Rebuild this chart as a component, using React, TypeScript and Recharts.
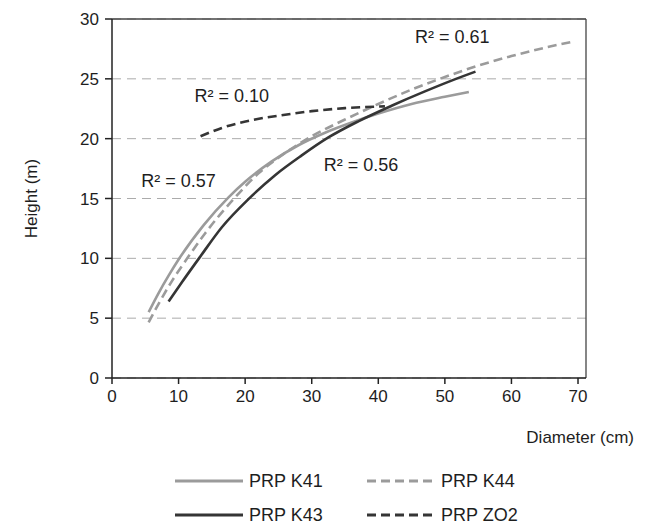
import { LineChart, Line, XAxis, YAxis, CartesianGrid, ReferenceLine, ReferenceDot, Label } from "recharts";

// values (diameter in cm, height in m)
const k41Diameter = [5.5, 7, 8.5, 10, 13.8, 17.5, 20, 24, 28, 32, 36, 40, 45, 50, 53.6];
const k41Height = [5.5, 7.1, 8.55, 9.9, 12.8, 15.1, 16.4, 18.1, 19.45, 20.5, 21.35, 22.1, 22.9, 23.5, 23.9];

const k44Diameter = [5.5, 7, 9, 11.3, 14, 18.5, 22, 26, 30, 35, 40, 45, 50, 55, 60, 65, 69.2];
const k44Height = [4.65, 6.2, 8.1, 10.0, 12.1, 15.1, 17.1, 18.8, 20.2, 21.6, 22.9, 24.1, 25.15, 26.1, 26.9, 27.6, 28.1];

const k43Diameter = [8.5, 10.5, 13.2, 16.5, 20.5, 24.5, 28.5, 32.5, 37, 42, 47, 51, 54.6];
const k43Height = [6.4, 8.0, 10.1, 12.6, 14.95, 16.95, 18.6, 20.1, 21.45, 22.75, 23.95, 24.85, 25.6];

const zo2Diameter = [13.3, 16.5, 21.5, 26, 30, 35, 41];
const zo2Height = [20.2, 20.9, 21.6, 22.0, 22.3, 22.55, 22.7];

const xTicks = [0, 10, 20, 30, 40, 50, 60, 70];
const yTicks = [0, 5, 10, 15, 20, 25, 30];
const xMax = 71.2;

// R² annotations: text and where it sits in data space
const r2Labels = [
  { text: "R² = 0.61", d: 51.1, h: 28.5 },
  { text: "R² = 0.10", d: 18.0, h: 23.6 },
  { text: "R² = 0.57", d: 10.0, h: 16.5 },
  { text: "R² = 0.56", d: 37.4, h: 17.8 },
];

const toRows = (ds: number[], hs: number[]) => ds.map((d, i) => ({ d, h: hs[i] }));

const LIGHT = "#9b9b9b";
const DARK = "#353535";

const series = [
  { name: "PRP K41", data: toRows(k41Diameter, k41Height), color: LIGHT, dash: undefined },
  { name: "PRP K44", data: toRows(k44Diameter, k44Height), color: LIGHT, dash: "9 5" },
  { name: "PRP K43", data: toRows(k43Diameter, k43Height), color: DARK, dash: undefined },
  { name: "PRP ZO2", data: toRows(zo2Diameter, zo2Height), color: DARK, dash: "9 5" },
];

const FONT = "'Liberation Sans', Arial, sans-serif";
const TEXT = "#1e1e1e";

const YTitle = (props: any) => {
  const vb = props.viewBox;
  const x = vb.x - 21;
  const y = vb.y + vb.height / 2;
  return (
    <text x={x} y={y} transform={`rotate(-90 ${x} ${y})`} textAnchor="middle" dominantBaseline="central"
      fontSize={17} fill={TEXT} fontFamily={FONT}>
      Height (m)
    </text>
  );
};

const XTitle = (props: any) => {
  const vb = props.viewBox;
  return (
    <text x={vb.x + vb.width + 48} y={vb.y + 59} textAnchor="end" dominantBaseline="central"
      fontSize={17} fill={TEXT} fontFamily={FONT}>
      Diameter (cm)
    </text>
  );
};

export default function App() {
  return (
    <div style={{ position: "absolute", left: 0, top: 0, width: 646, height: 525, background: "#fff", fontFamily: FONT }}>
      <LineChart width={646} height={525} margin={{ top: 19, right: 60, bottom: 117, left: 52 }}>
        <CartesianGrid horizontal vertical={false} stroke="#ababab" strokeDasharray="9 6" />
        <XAxis
          type="number"
          dataKey="d"
          domain={[0, xMax]}
          ticks={xTicks}
          height={30}
          allowDataOverflow
          stroke="#222"
          strokeWidth={1.5}
          tickSize={6}
          tickMargin={6}
          tick={{ fontSize: 17, fill: TEXT, fontFamily: FONT }}
        >
          <Label content={XTitle} />
        </XAxis>
        <YAxis
          type="number"
          domain={[0, 30]}
          ticks={yTicks}
          width={60}
          stroke="#222"
          strokeWidth={1.5}
          tickSize={7}
          tickMargin={6}
          tick={{ fontSize: 17, fill: TEXT, fontFamily: FONT }}
        >
          <Label content={YTitle} />
        </YAxis>
        <ReferenceLine y={30} stroke="#444" strokeWidth={1.3} />
        <ReferenceLine x={xMax} stroke="#444" strokeWidth={1.3} />
        {series.map((s) => (
          <Line
            key={s.name}
            data={s.data}
            dataKey="h"
            name={s.name}
            type="monotone"
            stroke={s.color}
            strokeWidth={2.6}
            strokeDasharray={s.dash}
            dot={false}
            activeDot={false}
            isAnimationActive={false}
          />
        ))}
        {r2Labels.map((l) => (
          <ReferenceDot
            key={l.text}
            x={l.d}
            y={l.h}
            r={0}
            fill="none"
            stroke="none"
            label={{ value: l.text, position: "center", fontSize: 18, fill: TEXT, fontFamily: FONT }}
          />
        ))}
      </LineChart>
      <div
        style={{
          position: "absolute",
          left: 175,
          top: 464,
          display: "grid",
          gridTemplateColumns: "192px 192px",
          gridAutoRows: "34px",
          alignItems: "center",
          fontSize: 18,
          lineHeight: "18px",
          color: TEXT,
        }}
      >
        {series.map((s) => (
          <div key={s.name} style={{ display: "flex", alignItems: "center" }}>
            <svg width={68} height={6} style={{ marginRight: 6 }}>
              <line x1={0} y1={3} x2={68} y2={3} stroke={s.color} strokeWidth={3} strokeDasharray={s.dash} />
            </svg>
            <span>{s.name}</span>
          </div>
        ))}
      </div>
    </div>
  );
}
